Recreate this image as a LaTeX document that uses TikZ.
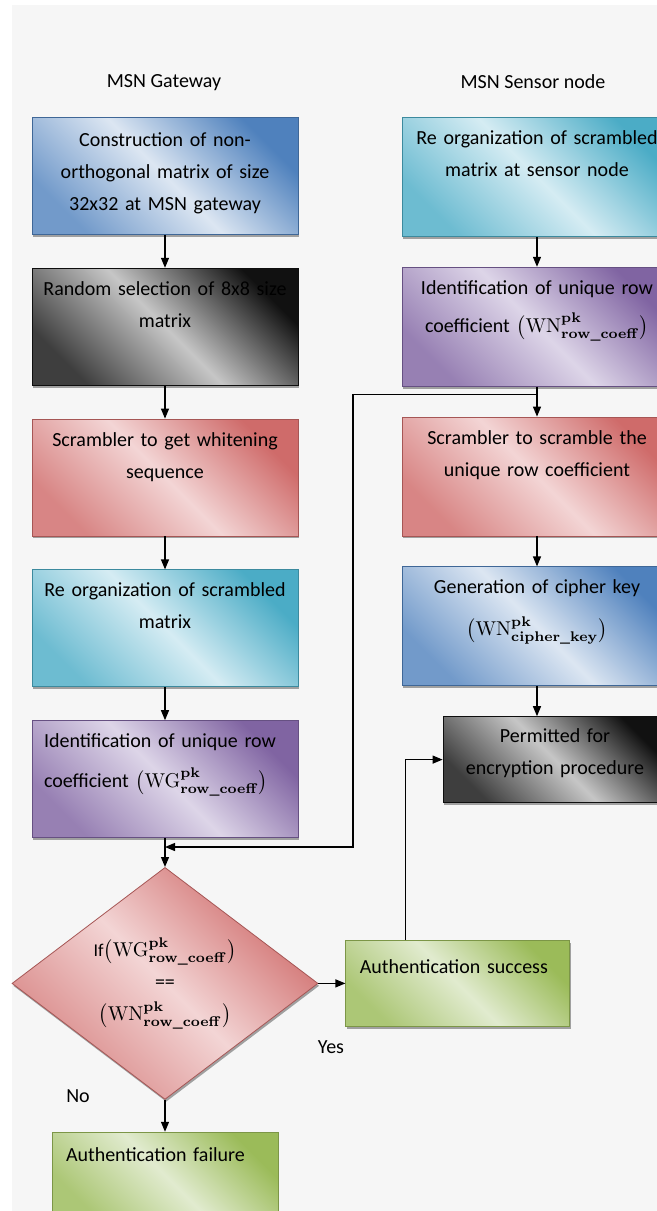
\documentclass[tikz,border=0pt]{standalone}
\usepackage[no-math]{fontspec}
\setmainfont{Carlito}
\usetikzlibrary{arrows.meta, positioning, shapes.geometric, shadows, calc}

\definecolor{bgc}{HTML}{F6F6F6}
\definecolor{blueD}{HTML}{4F81BD}
\definecolor{blueL}{HTML}{DCE6F2}
\definecolor{grayD}{HTML}{111111}
\definecolor{grayL}{HTML}{C6C6C6}
\definecolor{redD}{HTML}{CF6B6A}
\definecolor{redL}{HTML}{F3D5D5}
\definecolor{cyanD}{HTML}{4BACC6}
\definecolor{cyanL}{HTML}{D5ECF3}
\definecolor{purpD}{HTML}{8064A2}
\definecolor{purpL}{HTML}{DDD5E8}
\definecolor{greenD}{HTML}{9BBB59}
\definecolor{greenL}{HTML}{E1EBCF}

\newcommand{\pkcoef}[2]{\bigl(\mathrm{#1}^{\mathbf{pk}}_{\mathbf{#2}}\bigr)}

\tikzset{
  fillshade/.style 2 args={top color=#1, bottom color=#1!75!#2, middle color=#2, shading angle=-45, draw=#1!80!black, line width=0.4pt},
  softshadow/.style={drop shadow={shadow xshift=0.6pt, shadow yshift=-1.2pt, opacity=0.35, fill=black}},
  lbox/.style={minimum width=133pt, text width=125pt, inner xsep=4pt, inner ysep=0pt, align=center, text height=13.5pt, text depth=45pt, softshadow},
  rbox/.style={minimum width=135pt, text width=127pt, inner xsep=4pt, inner ysep=0pt, align=center, text height=13.5pt, text depth=46pt, softshadow},
  gbox/.style={fillshade={greenD}{greenL}, softshadow, minimum width=112pt, text width=98pt, inner xsep=7pt, inner ysep=0pt, align=left, text depth=26.5pt},
  arr/.style={-{Triangle[length=5pt,width=4pt]}, line width=0.6pt},
}

\begin{document}
\begin{tikzpicture}[x=0.5pt, y=-0.5pt, node distance=16.5pt, font=\fontsize{10}{16}\selectfont]
  \useasboundingbox (0,0) rectangle (657,1211);
  \clip (0,0) rectangle (657,1211);
  \fill[white] (0,0) rectangle (657,1211);
  \fill[bgc] (12,5) rectangle (657,1211);

  % column titles
  \node (gwtitle) at (164,83) {MSN Gateway};
  \node (sntitle) at (533,82) {MSN Sensor node};

  % gateway side
  \node[lbox, fillshade={blueD}{blueL}, anchor=north, text height=14.5pt, text depth=44pt] (constr) at (165,117) {Construction of non-\\orthogonal matrix of size\\32x32 at MSN gateway};
  \node[lbox, fillshade={grayD}{grayL}, below=of constr] (randsel) {Random selection of 8x8 size\\matrix};
  \node[lbox, fillshade={redD}{redL}, below=of randsel] (scrgw) {Scrambler to get whitening\\sequence};
  \node[lbox, fillshade={cyanD}{cyanL}, below=of scrgw] (reorggw) {Re organization of scrambled\\matrix};
  \node[lbox, fillshade={purpD}{purpL}, below=of reorggw, align=left, inner xsep=6pt, text width=121pt] (identgw) {Identification of unique row\\[4pt]coefficient $\pkcoef{WG}{row\_coeff}$};

  % sensor node side
  \node[rbox, fillshade={cyanD}{cyanL}, anchor=north] (reorgsn) at (537,117) {Re organization of scrambled\\matrix at sensor node};
  \node[rbox, fillshade={purpD}{purpL}, below=15pt of reorgsn] (identsn) {Identification of unique row\\[3pt]coefficient $\pkcoef{WN}{row\_coeff}$};
  \node[rbox, fillshade={redD}{redL}, below=15pt of identsn] (scrsn) {Scrambler to scramble the\\unique row coefficient};
  \node[rbox, fillshade={blueD}{blueL}, below=15pt of scrsn] (cipher) {Generation of cipher key\\[5pt]$\pkcoef{WN}{cipher\_key}$};
  \node[fillshade={grayD}{grayL}, softshadow, minimum width=112pt, text width=104pt, inner xsep=4pt, inner ysep=0pt, align=center, text height=13pt, text depth=30pt, below=15pt of cipher, xshift=9pt] (permit) {Permitted for\\encryption procedure};

  % comparison
  \node[diamond, aspect=1.32, fillshade={redD}{redL}, softshadow, minimum width=153pt, minimum height=116pt, inner sep=0pt, align=center, below=14.5pt of identgw] (cmp) {{\small If}$\pkcoef{WG}{row\_coeff}$\\==\\$\pkcoef{WN}{row\_coeff}$};
  \node[gbox, right=13.5pt of cmp, text height=16.5pt] (succ) {Authentication success};
  \node[gbox, below=16pt of cmp, minimum width=113pt, text width=99pt, text height=14.75pt, text depth=28.25pt] (fail) {Authentication failure};
  \node (yes) at (331,1047) {Yes};
  \node (no) at (78,1096) {No};

  % connectors
  \draw[arr] (constr) -- (randsel);
  \draw[arr] (randsel) -- (scrgw);
  \draw[arr] (scrgw) -- (reorggw);
  \draw[arr] (reorggw) -- (identgw);
  \draw[arr] (identgw) -- (cmp);
  \draw[arr] (reorgsn) -- (identsn);
  \draw[arr] (identsn) -- (scrsn);
  \draw[arr] (scrsn) -- (cipher);
  \draw[arr] (cipher.south) -- (cipher.south |- permit.north);
  \coordinate (split) at ($(identsn.south)+(0,-4pt)$);
  \coordinate (join) at ($(identgw.south)+(0,-4.5pt)$);
  \draw[arr] (split) -| ($(join)+(94pt,0)$) -- (join);
  \draw[arr] (cmp.east) -- (succ);
  \draw[arr] (cmp.south) -- (fail);
  \draw[arr] ([xshift=-26pt]succ.north) |- (permit.west);
\end{tikzpicture}
\end{document}
